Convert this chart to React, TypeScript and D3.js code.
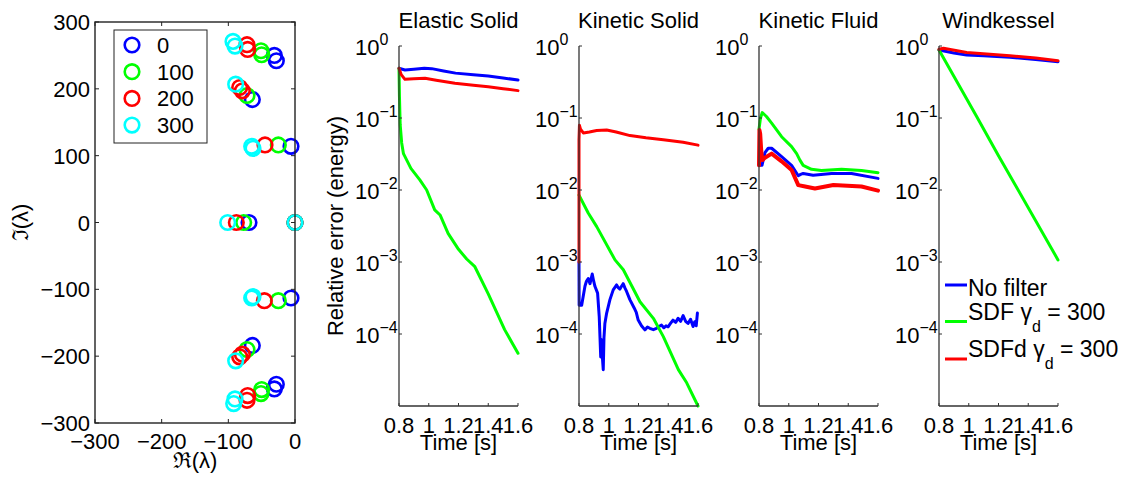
import React from "react";
import * as d3 from "d3";

const FONT = "'Liberation Sans', Arial, Helvetica, sans-serif";

// ---------- Eigenvalue plot data ----------
const gammaLabels = ["0", "100", "200", "300"];
const gammaColors = ["#0000ff", "#00ff00", "#ff0000", "#00ffff"];
const eig0: [number, number][] = [
  [-31, 250], [-28, 242], [-64, 184], [-6, 114], [-69, 0], [0, 0],
  [-6, -113], [-64, -184], [-28, -242], [-31, -249],
];
const eig100: [number, number][] = [
  [-51, 257], [-50, 251], [-72, 190], [-25, 116], [-77, 0], [0, 0],
  [-25, -117], [-72, -190], [-50, -250], [-51, -256],
];
const eig200: [number, number][] = [
  [-72, 266], [-71, 259], [-83, 202], [-79, 197], [-45, 116], [-88, 0], [0, 0],
  [-46, -117], [-79, -197], [-83, -201], [-71, -259], [-72, -266],
];
const eig300: [number, number][] = [
  [-93, 271], [-90, 264], [-89, 207], [-65, 114], [-63, 111], [-101, 0], [0, 0],
  [-65, -113], [-63, -111], [-89, -207], [-90, -264], [-92, -271],
];
const eigSeries = [eig0, eig100, eig200, eig300];
const reTicks = [-300, -200, -100, 0];
const imTicks = [-300, -200, -100, 0, 100, 200, 300];

// ---------- Relative error panels ----------
const panelTitles = ["Elastic Solid", "Kinetic Solid", "Kinetic Fluid", "Windkessel"];
const timeTicks = [0.8, 1, 1.2, 1.4, 1.6];
const timeTickLabels = ["0.8", "1", "1.2", "1.4", "1.6"];
const decadeExps = [0, -1, -2, -3, -4];
const seriesNames = ["No filter", "SDF", "SDFd"];
const seriesColors = ["#0000ff", "#00ff00", "#ff0000"];

const esNoFilter: [number, number][] = [
  [0.8, 0.49], [0.84, 0.465], [0.9, 0.475], [0.97, 0.49], [1.02, 0.485], [1.1, 0.45],
  [1.18, 0.42], [1.3, 0.4], [1.4, 0.383], [1.5, 0.36], [1.6, 0.337],
];
const esSDF: [number, number][] = [
  [0.8, 0.49], [0.803, 0.2], [0.808, 0.08], [0.818, 0.045], [0.83, 0.032], [0.88, 0.02],
  [0.94, 0.0138], [0.986, 0.01], [1.04, 0.0053], [1.076, 0.0045], [1.13, 0.0025],
  [1.2, 0.0015], [1.255, 0.0011], [1.31, 0.00086], [1.4, 0.00036], [1.51, 0.000115],
  [1.6, 0.000054],
];
const esSDFd: [number, number][] = [
  [0.8, 0.49], [0.815, 0.4], [0.84, 0.344], [0.9, 0.35], [0.975, 0.356], [1.05, 0.335],
  [1.176, 0.303], [1.3, 0.285], [1.4, 0.272], [1.5, 0.255], [1.6, 0.24],
];

const ksNoFilter: [number, number][] = [
  [0.8, 0.001], [0.801, 0.00025], [0.818, 0.00025], [0.84, 0.00046], [0.85, 0.00054],
  [0.862, 0.00059], [0.874, 0.0005], [0.889, 0.00068], [0.898, 0.00055], [0.907, 0.00046],
  [0.925, 0.00037], [0.936, 0.000174], [0.946, 0.000048], [0.952, 0.000083],
  [0.958, 0.000045], [0.963, 0.000032], [0.968, 0.00009], [0.974, 0.00014],
  [0.986, 0.000195], [1.008, 0.0003], [1.03, 0.00041], [1.053, 0.00048], [1.064, 0.00044],
  [1.075, 0.00042], [1.086, 0.00046], [1.097, 0.0005], [1.11, 0.00043], [1.12, 0.00039],
  [1.142, 0.0003], [1.171, 0.00023], [1.185, 0.0002], [1.198, 0.000156], [1.22, 0.00013],
  [1.243, 0.000114], [1.26, 0.000125], [1.276, 0.00012], [1.3, 0.000115], [1.321, 0.00012],
  [1.34, 0.000128], [1.355, 0.000133], [1.37, 0.000122], [1.385, 0.00013],
  [1.399, 0.000126], [1.415, 0.00014], [1.432, 0.000156], [1.45, 0.000145],
  [1.466, 0.000165], [1.483, 0.00015], [1.5, 0.00018], [1.517, 0.00015], [1.533, 0.00014],
  [1.55, 0.00016], [1.567, 0.000127], [1.578, 0.000148], [1.588, 0.00013], [1.596, 0.000195],
];
const ksSDF: [number, number][] = [
  [0.8, 0.0085], [0.862, 0.0048], [0.919, 0.0031], [1.042, 0.00107], [1.098, 0.00078],
  [1.21, 0.00028], [1.3, 0.000165], [1.367, 0.000092], [1.468, 0.000032],
  [1.524, 0.000021], [1.6, 0.00001],
];
const ksSDFd: [number, number][] = [
  [0.8, 0.001], [0.8, 0.05], [0.803, 0.079], [0.81, 0.07], [0.829, 0.062], [0.87, 0.064],
  [0.919, 0.067], [0.986, 0.068], [1.05, 0.064], [1.143, 0.057], [1.25, 0.053],
  [1.367, 0.05], [1.5, 0.046], [1.6, 0.042],
];

const kfNoFilter: [number, number][] = [
  [0.8, 0.022], [0.82, 0.022], [0.84, 0.033], [0.862, 0.038], [0.885, 0.038],
  [0.952, 0.029], [1.019, 0.022], [1.064, 0.0158], [1.08, 0.0165], [1.097, 0.017],
  [1.164, 0.016], [1.288, 0.017], [1.422, 0.017], [1.6, 0.0145],
];
const kfSDF: [number, number][] = [
  [0.8, 0.07], [0.81, 0.1], [0.822, 0.119], [0.85, 0.105], [0.885, 0.085], [0.952, 0.055],
  [1.019, 0.04], [1.053, 0.032], [1.075, 0.026], [1.097, 0.022], [1.153, 0.0194],
  [1.22, 0.0186], [1.355, 0.0194], [1.489, 0.0186], [1.6, 0.0174],
];
const kfSDFd: [number, number][] = [
  [0.8, 0.022], [0.803, 0.068], [0.808, 0.06], [0.815, 0.035], [0.822, 0.026],
  [0.84, 0.028], [0.885, 0.032], [0.952, 0.025], [1.019, 0.019], [1.064, 0.0117],
  [1.11, 0.0112], [1.176, 0.0105], [1.3, 0.0117], [1.489, 0.0112], [1.6, 0.0098],
];

const wkNoFilter: [number, number][] = [
  [0.8, 0.88], [0.9, 0.8], [0.986, 0.75], [1.1, 0.73], [1.277, 0.7], [1.45, 0.65], [1.6, 0.605],
];
const wkSDF: [number, number][] = [
  [0.8, 0.88], [1.054, 0.104], [1.2, 0.03], [1.6, 0.00107],
];
const wkSDFd: [number, number][] = [
  [0.8, 0.9], [0.83, 0.93], [0.986, 0.81], [1.277, 0.73], [1.45, 0.68], [1.6, 0.625],
];

const panelData = [
  [esNoFilter, esSDF, esSDFd],
  [ksNoFilter, ksSDF, ksSDFd],
  [kfNoFilter, kfSDF, kfSDFd],
  [wkNoFilter, wkSDF, wkSDFd],
];

const AXIS = "#333";

function EigenPanel() {
  const L = 95, R = 295, T = 22, B = 423;
  const x = d3.scaleLinear().domain([-300, 0]).range([L, R]);
  const y = d3.scaleLinear().domain([-300, 300]).range([B, T]);
  const tl = 4;
  return (
    <g>
      {eigSeries.map((pts, si) => (
        <g key={si}>
          {pts.map((p, i) => (
            <circle key={i} cx={x(p[0])} cy={y(p[1])} r={7.3} fill="none"
              stroke={gammaColors[si]} strokeWidth={2.6} />
          ))}
        </g>
      ))}
      <rect x={L} y={T} width={R - L} height={B - T} fill="none" stroke="#222" strokeWidth={1.4} />
      {reTicks.map((t) => (
        <g key={t}>
          <line x1={x(t)} x2={x(t)} y1={B} y2={B - tl} stroke="#222" />
          <line x1={x(t)} x2={x(t)} y1={T} y2={T + tl} stroke="#222" />
          <text x={x(t)} y={449} textAnchor="middle" fontSize={22}>
            {t < 0 ? "\u2212" + Math.abs(t) : String(t)}
          </text>
        </g>
      ))}
      {imTicks.map((t) => (
        <g key={t}>
          <line x1={L} x2={L + tl} y1={y(t)} y2={y(t)} stroke="#222" />
          <line x1={R} x2={R - tl} y1={y(t)} y2={y(t)} stroke="#222" />
          <text x={L - 5} y={y(t) + 8} textAnchor="end" fontSize={22}>
            {t < 0 ? "\u2212" + Math.abs(t) : String(t)}
          </text>
        </g>
      ))}
      <text x={(L + R) / 2} y={468} textAnchor="middle" fontSize={22}>{"\u211C(\u03BB)"}</text>
      <text transform={`translate(28,${(T + B) / 2}) rotate(-90)`} textAnchor="middle" fontSize={22}>
        {"\u2111(\u03BB)"}
      </text>
      {/* legend */}
      <rect x={114} y={30} width={93} height={113} fill="#fff" stroke="#222" strokeWidth={1} />
      {gammaLabels.map((g, i) => (
        <g key={g}>
          <circle cx={132} cy={45 + i * 26.7} r={7.3} fill="none" stroke={gammaColors[i]} strokeWidth={2.6} />
          <text x={157} y={45 + i * 26.7 + 8} fontSize={22}>{g}</text>
        </g>
      ))}
    </g>
  );
}

function ErrorPanel({ idx }: { idx: number }) {
  const L = 399 + idx * 180, R = L + 119, T = 46, B = 406;
  const x = d3.scaleLinear().domain([0.8, 1.6]).range([L, R]);
  const y = d3.scaleLog().domain([1e-5, 1]).range([B, T]);
  const line = d3.line<[number, number]>().x((d) => x(d[0])).y((d) => y(d[1]));
  const tl = 3;
  return (
    <g>
      {panelData[idx].map((s, si) => (
        <path key={si} d={line(s) || ""} fill="none" stroke={seriesColors[si]}
          strokeWidth={idx === 2 && si === 2 ? 4 : 3} strokeLinejoin="round" strokeLinecap="round" />
      ))}
      <line x1={L} x2={L} y1={T} y2={B} stroke={AXIS} strokeWidth={1.3} />
      <line x1={L} x2={R} y1={B} y2={B} stroke={AXIS} strokeWidth={1.3} />
      {decadeExps.map((e) => (
        <g key={e}>
          <line x1={L} x2={L + tl} y1={y(Math.pow(10, e))} y2={y(Math.pow(10, e))} stroke={AXIS} />
          <text x={L - 44} y={y(Math.pow(10, e)) + 9} fontSize={22}>
            10
            <tspan dy={-10} fontSize={16}>{e < 0 ? "\u2212" + Math.abs(e) : String(e)}</tspan>
          </text>
        </g>
      ))}
      {timeTicks.map((t, i) => (
        <g key={t}>
          <line x1={x(t)} x2={x(t)} y1={B} y2={B - tl} stroke={AXIS} />
          <text x={x(t)} y={433} textAnchor="middle" fontSize={22}>{timeTickLabels[i]}</text>
        </g>
      ))}
      <text x={(L + R) / 2} y={450} textAnchor="middle" fontSize={22}>Time [s]</text>
      <text x={(L + R) / 2} y={28} textAnchor="middle" fontSize={22}>{panelTitles[idx]}</text>
      {idx === 0 && (
        <text transform={`translate(343,${(T + B) / 2}) rotate(-90)`} textAnchor="middle" fontSize={22}>
          Relative error (energy)
        </text>
      )}
      {idx === 3 && (
        <g>
          <line x1={945} x2={967} y1={285} y2={285} stroke={seriesColors[0]} strokeWidth={3} />
          <text x={968} y={296} fontSize={23}>{seriesNames[0]}</text>
          <line x1={945} x2={967} y1={321.5} y2={321.5} stroke={seriesColors[1]} strokeWidth={3} />
          <text x={968} y={320} fontSize={23}>
            {seriesNames[1]} {"\u03B3"}
            <tspan dy={12} fontSize={16}>d</tspan>
            <tspan dy={-12}> = 300</tspan>
          </text>
          <line x1={945} x2={967} y1={359} y2={359} stroke={seriesColors[2]} strokeWidth={3} />
          <text x={968} y={357} fontSize={23}>
            {seriesNames[2]} {"\u03B3"}
            <tspan dy={12} fontSize={16}>d</tspan>
            <tspan dy={-12}> = 300</tspan>
          </text>
        </g>
      )}
    </g>
  );
}

export default function App() {
  return (
    <svg width={1126} height={477} style={{ position: "absolute", left: 0, top: 0, background: "#fff" }}
      fontFamily={FONT}>
      <rect x={0} y={0} width={1126} height={477} fill="#fff" />
      <EigenPanel />
      {[0, 1, 2, 3].map((i) => <ErrorPanel key={i} idx={i} />)}
    </svg>
  );
}
